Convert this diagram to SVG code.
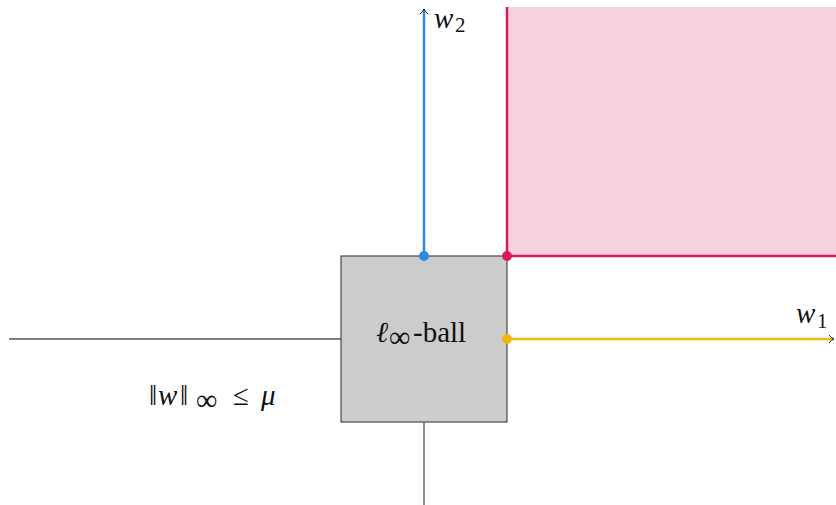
<svg xmlns="http://www.w3.org/2000/svg" width="836" height="505" viewBox="0 0 836 505">
<style>
.ax{stroke:#555;stroke-width:1.3;fill:none}
text{font-family:"Liberation Serif","DejaVu Serif",serif;fill:#111;font-size:29px}
.m{font-style:italic}
.s{font-size:21px}
</style>
<defs>
<marker id="tip" markerWidth="8" markerHeight="10" refX="6" refY="5" orient="auto" markerUnits="userSpaceOnUse">
<path d="M1,1 Q3,4 6,5 Q3,6 1,9" fill="none" stroke="#222" stroke-width="1"/>
</marker>
</defs>
<rect width="836" height="505" fill="#fff"/>
<g id="region">
<rect x="507" y="7" width="329" height="249" fill="#f5d2de"/>
<path d="M507,7 V256 H836" fill="none" stroke="#e0185f" stroke-width="2.5"/>
</g>
<g id="connectors">
<line class="ax" x1="9" y1="339" x2="341" y2="339"/>
<line class="ax" x1="424" y1="422" x2="424" y2="505"/>
<line x1="424" y1="256" x2="424" y2="9" stroke="#2a8be0" stroke-width="2.5" marker-end="url(#tip)"/>
<line x1="507" y1="339" x2="834" y2="339" stroke="#f0b70e" stroke-width="2.5" marker-end="url(#tip)"/>
</g>
<g id="ball">
<rect x="341" y="256" width="166" height="166" fill="#cccccc" stroke="#555" stroke-width="1.3"/>
<text y="342"><tspan class="m" x="376">ℓ</tspan><tspan x="389" y="347" style="font-size:30px">∞</tspan><tspan x="413" y="342">-ball</tspan></text>
</g>
<g id="points">
<circle cx="424" cy="256" r="5" fill="#2a8be0"/>
<circle cx="507" cy="256" r="5" fill="#e0185f"/>
<circle cx="507" cy="339" r="5" fill="#f0b70e"/>
</g>
<g id="labels">
<text y="28"><tspan class="m" x="434">w</tspan><tspan class="s" x="455" y="32">2</tspan></text>
<text y="323"><tspan class="m" x="796">w</tspan><tspan class="s" x="817" y="328">1</tspan></text>
<text y="405"><tspan x="149">‖</tspan><tspan class="m" x="158">w</tspan><tspan x="180">‖</tspan><tspan x="196" y="410" style="font-size:30px">∞</tspan><tspan x="233" y="405">≤</tspan><tspan class="m" x="261">μ</tspan></text>
</g>
</svg>
